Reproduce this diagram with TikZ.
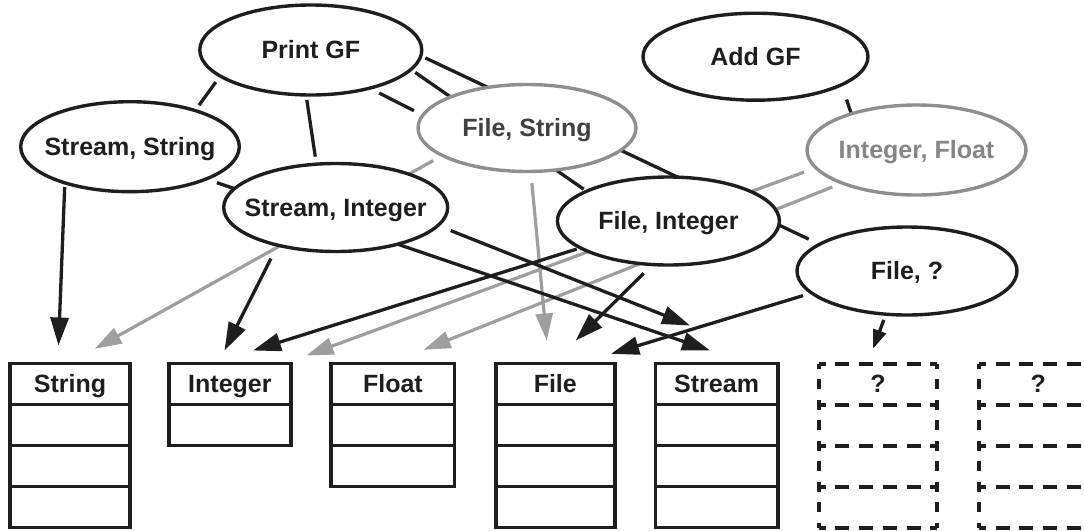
\documentclass[tikz,border=0pt]{standalone}
\usepackage{fontspec}
\setmainfont{Liberation Sans}
\usetikzlibrary{arrows.meta,shapes.geometric,positioning}
\pgfdeclarelayer{background}
\pgfsetlayers{background,main}
\definecolor{ink}{HTML}{1E1E1E}
\definecolor{faint}{HTML}{8E8E8E}
\definecolor{faintline}{HTML}{9E9E9E}
\definecolor{faintink}{HTML}{858585}
% keep long labels from widening the ellipses
\newcommand\nowidth[1]{\makebox[0pt]{#1}}

\begin{document}
\begin{tikzpicture}[x=1pt,y=-1pt,
  every node/.style={font=\fontsize{25pt}{30pt}\selectfont\bfseries, text=ink,
    text height=17.9pt, text depth=0pt, inner sep=0pt, outer sep=0pt},
  meth/.style={ellipse, draw=ink, line width=3.4pt, fill=white},
  ghost/.style={meth, draw=faint, line width=3.4pt},
  hdr/.style={rectangle, draw=ink, line width=3.8pt, minimum height=41pt, minimum width=#1},
  qhdr/.style={rectangle, minimum height=41pt, minimum width=#1},
  link/.style={draw=ink, line width=3.3pt},
  use/.style={draw=ink, line width=3.3pt, -{Triangle[length=28pt,width=18pt]}},
  usesmall/.style={draw=ink, line width=3.3pt, -{Triangle[length=19pt,width=13pt]}},
  faintuse/.style={draw=faintline, line width=3.2pt, -{Triangle[length=27pt,width=17pt]}},
  hdash/.style={draw=ink, line width=4pt, dash pattern=on 14pt off 9.74pt, dash phase=7pt},
  vdash/.style={draw=ink, line width=4pt, dash pattern=on 10pt off 10.5pt, dash phase=5pt}
]
\useasboundingbox (0,0) rectangle (1084,530);

% generic functions and their methods
\node[meth, minimum width=222pt, minimum height=90pt] (pgf) at (310.8,50) {\nowidth{Print GF}};
\node[meth, minimum width=225pt, minimum height=87pt] (add) at (755.5,56.7) {\nowidth{Add GF}};
\node[meth, minimum width=218.6pt, minimum height=90pt] (ss) at (130,146.7) {\nowidth{Stream, String}};
\node[meth, minimum width=224pt, minimum height=88pt] (si) at (335.7,207.5) {\nowidth{Stream, Integer}};
\node[ghost, minimum width=218pt, minimum height=87pt, text=ink!85] (fs) at (527,128) {\nowidth{File, String}};
\node[meth, minimum width=222pt, minimum height=88pt] (fi) at (668.4,221) {\nowidth{File, Integer}};
\node[ghost, minimum width=219pt, minimum height=90pt, text=faintink] (if) at (916.5,150) {\nowidth{Integer, Float}};
\node[meth, minimum width=220pt, minimum height=88pt] (fq) at (907,271) {\nowidth{File, ?}};

% classes with their slots
\node[hdr=120.2pt] (bString) at (70.1,384) {String};
\node[hdr=120.2pt, below=0pt of bString] (bString2) {};
\node[hdr=120.2pt, below=0pt of bString2] (bString3) {};
\node[hdr=120.2pt, below=0pt of bString3] (bString4) {};

\node[hdr=122.3pt] (bInteger) at (229.9,384) {Integer};
\node[hdr=122.3pt, below=0pt of bInteger] (bInteger2) {};

\node[hdr=123.2pt] (bFloat) at (392.9,384) {Float};
\node[hdr=123.2pt, below=0pt of bFloat] (bFloat2) {};
\node[hdr=123.2pt, below=0pt of bFloat2] (bFloat3) {};

\node[hdr=118.7pt] (bFile) at (555.3,384) {File};
\node[hdr=118.7pt, below=0pt of bFile] (bFile2) {};
\node[hdr=118.7pt, below=0pt of bFile2] (bFile3) {};
\node[hdr=118.7pt, below=0pt of bFile3] (bFile4) {};

\node[hdr=122.2pt] (bStream) at (716.6,384) {Stream};
\node[hdr=122.2pt, below=0pt of bStream] (bStream2) {};
\node[hdr=122.2pt, below=0pt of bStream2] (bStream3) {};
\node[hdr=122.2pt, below=0pt of bStream3] (bStream4) {};

% unknown classes, dashed
\foreach \c/\x in {bQa/878, bQb/1038.3} {
  \node[qhdr=118.7pt] (\c) at (\x,384) {?};
  \node[qhdr=118.7pt, below=0pt of \c] (\c2) {};
  \node[qhdr=118.7pt, below=0pt of \c2] (\c3) {};
  \node[qhdr=118.7pt, below=0pt of \c3] (\c4) {};
  \foreach \r in {\c,\c2,\c3,\c4} {
    \draw[hdash] (\r.north west) -- (\r.north east);
    \draw[vdash] (\r.north west) -- (\r.south west);
    \draw[vdash] (\r.north east) -- (\r.south east);
  }
  \draw[hdash] (\c4.south west) -- (\c4.south east);
}

\begin{pgfonlayer}{background}
  % dispatch to classes of the grey methods
  \draw[faintuse, shorten <=10.5pt] (fs.-162.6) -- ([xshift=24.6pt,yshift=14.7pt]bString.north);
  \draw[faintuse, shorten <=11.8pt] (fs.-85.3) -- ([xshift=-8.6pt,yshift=23pt]bFile.north);
  \draw[faintuse, shorten <=12.6pt] (if.-170.2) -- ([xshift=76.6pt,yshift=8pt]bInteger.north);
  \draw[faintuse, shorten <=10.7pt] (if.-156.5) -- ([xshift=30.7pt,yshift=13.7pt]bFloat.north);

  % generic function to method links
  \draw[link, shorten <=7.5pt, shorten >=6.6pt] (pgf.-164.3) -- (ss.29.6);
  \draw[link, shorten <=5pt, shorten >=7.6pt] (pgf.-96.4) -- (si.114.4);
  \draw[link, shorten <=10.7pt, shorten >=10pt] (pgf.-33.1) -- (fs.173.7);
  \draw[link, shorten <=5.3pt, shorten >=3.6pt] (pgf.-11.1) -- (fi.160.9);
  \draw[link, shorten <=5pt, shorten >=12pt] (pgf.-3.2) -- (fq.163.8);
  \draw[link, shorten <=15.6pt] (add.-18.7) -- (if.151.6);

  % method arguments to classes
  \draw[use, shorten <=4.2pt] (ss.-151.6) -- ([xshift=-11.6pt,yshift=18pt]bString.north);
  \draw[use, shorten <=11.4pt] (ss.-23.9) -- ([xshift=-6.6pt,yshift=13pt]bStream.north);
  \draw[use, shorten <=13.8pt] (si.-10.8) -- ([xshift=-26.6pt,yshift=38pt]bStream.north);
  \draw[use, shorten <=15pt] (si.-147.6) -- ([xshift=-5.4pt,yshift=13pt]bInteger.north);
  \draw[use, shorten <=4pt] (fi.-163) -- ([xshift=23.1pt,yshift=13pt]bInteger.north);
  \draw[use, shorten <=12.5pt] (fi.-110.4) -- ([xshift=20.4pt,yshift=23pt]bFile.north);
  \draw[use, shorten <=9.2pt] (fq.-167.5) -- ([xshift=55.8pt,yshift=9.7pt]bFile.north);
  \draw[usesmall, shorten <=6.2pt] (fq.-116.2) -- ([xshift=-4.9pt,yshift=14.7pt]bQa.north);
\end{pgfonlayer}
\end{tikzpicture}
\end{document}
